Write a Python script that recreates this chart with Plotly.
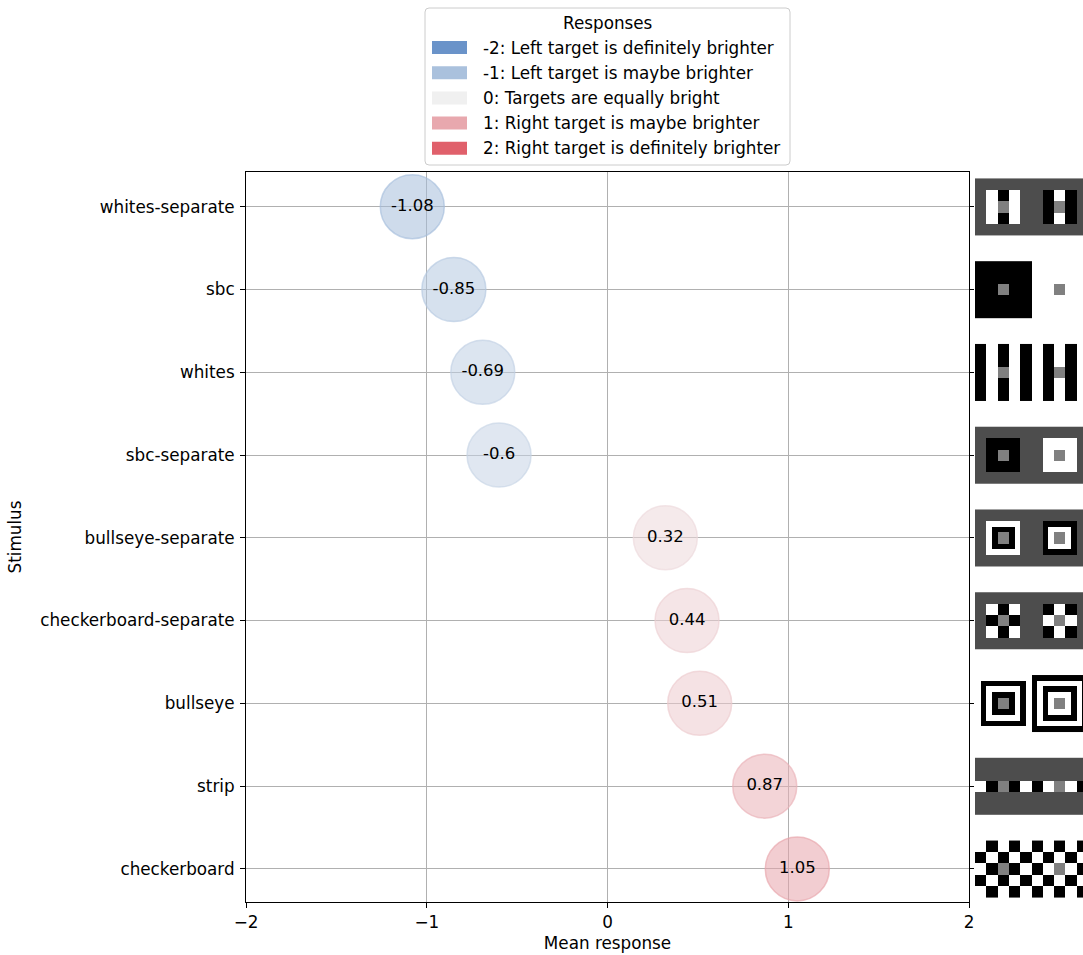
import plotly.graph_objects as go

# ---------------- data ----------------
stimuli = ["whites-separate", "sbc", "whites", "sbc-separate", "bullseye-separate",
           "checkerboard-separate", "bullseye", "strip", "checkerboard"]
mean_response = [-1.08, -0.85, -0.69, -0.6, 0.32, 0.44, 0.51, 0.87, 1.05]

x_ticks = [-2, -1, 0, 1, 2]
x_tick_labels = ["\u22122", "\u22121", "0", "1", "2"]

response_levels = [-2, -1, 0, 1, 2]
response_labels = ["-2: Left target is definitely brighter",
                   "-1: Left target is maybe brighter",
                   "0: Targets are equally bright",
                   "1: Right target is maybe brighter",
                   "2: Right target is definitely brighter"]
response_colors = ["#6a93c9", "#aac1dd", "#f0f0f0", "#e8a8ae", "#e0606b"]

# stimulus thumbnails: k=black, w=white, g=background grey, t=target grey
img_whites_separate = ["gggggggggg", "gwkwggkwkg", "gwtwggktkg", "gwkwggkwkg", "gggggggggg"]
img_sbc = ["kkkkkwwwww", "kkkkkwwwww", "kktkkwwtww", "kkkkkwwwww", "kkkkkwwwww"]
img_whites = ["kwkwkwkwkw", "kwkwkwkwkw", "kwtwkwktkw", "kwkwkwkwkw", "kwkwkwkwkw"]
img_sbc_separate = ["gggggggggg", "gkkkggwwwg", "gktkggwtwg", "gkkkggwwwg", "gggggggggg"]
img_bullseye_separate = ["gggggggggggggggggggg", "gggggggggggggggggggg",
                         "ggwwwwwwggggkkkkkkgg", "ggwkkkkwggggkwwwwkgg",
                         "ggwkttkwggggkwttwkgg", "ggwkttkwggggkwttwkgg",
                         "ggwkkkkwggggkwwwwkgg", "ggwwwwwwggggkkkkkkgg",
                         "gggggggggggggggggggg", "gggggggggggggggggggg"]
img_checkerboard_separate = ["gggggggggg", "gwkwggkwkg", "gktkggwtwg", "gwkwggkwkg", "gggggggggg"]
img_bullseye = ["wwwwwwwwwwkkkkkkkkkk", "wkkkkkkkkwkwwwwwwwwk",
                "wkwwwwwwkwkwkkkkkkwk", "wkwkkkkwkwkwkwwwwkwk",
                "wkwkttkwkwkwkwttwkwk", "wkwkttkwkwkwkwttwkwk",
                "wkwkkkkwkwkwkwwwwkwk", "wkwwwwwwkwkwkkkkkkwk",
                "wkkkkkkkkwkwwwwwwwwk", "wwwwwwwwwwkkkkkkkkkk"]
img_strip = ["gggggggggg", "gggggggggg", "wktkwkwtwk", "gggggggggg", "gggggggggg"]
img_checkerboard = ["wkwkwkwkwk", "kwkwkwkwkw", "wktkwkwtwk", "kwkwkwkwkw", "wkwkwkwkwk"]

images = [img_whites_separate, img_sbc, img_whites, img_sbc_separate, img_bullseye_separate,
          img_checkerboard_separate, img_bullseye, img_strip, img_checkerboard]
pixel_values = {"k": 0.0, "w": 1.0, "g": 0.3, "t": 0.5}

# ---------------- layout geometry ----------------
W, H = 1083, 955
ML, MR, MT, MB = 246, 0, 172, 53
PW, PH = W - ML - MR, H - MT - MB
Y_RANGE = [8.4, -0.42]
PX_PER_Y = PH / abs(Y_RANGE[0] - Y_RANGE[1])
IMG_H_PX = 56.67
MAIN_RIGHT_PX = 969
IMG_LEFT_PX = 975
FS = 16.8


def px2x(px):
    return (px - ML) / PW


def py2y(py):
    return (MT + PH - py) / PH


def hex2rgb(h):
    h = h.lstrip("#")
    return tuple(int(h[i:i + 2], 16) for i in (0, 2, 4))


def color_at(v):
    for i in range(len(response_levels) - 1):
        a, b = response_levels[i], response_levels[i + 1]
        if a <= v <= b:
            t = (v - a) / (b - a)
            c0, c1 = hex2rgb(response_colors[i]), hex2rgb(response_colors[i + 1])
            return tuple(c0[j] + (c1[j] - c0[j]) * t for j in range(3))
    return hex2rgb(response_colors[-1] if v > 0 else response_colors[0])


fill_colors, line_colors = [], []
for v in mean_response:
    r, g, b = color_at(v)
    fill_colors.append(f"rgba({r:.0f},{g:.0f},{b:.0f},0.55)")
    line_colors.append(f"rgba({r:.0f},{g:.0f},{b:.0f},0.65)")

FONT = "DejaVu Sans"

fig = go.Figure()

# bubbles
fig.add_trace(go.Scatter(
    x=mean_response, y=list(range(len(stimuli))),
    mode="markers+text",
    text=[str(v) for v in mean_response],
    textposition="middle center",
    textfont=dict(family=FONT, size=16.5, color="black"),
    marker=dict(size=64, color=fill_colors, line=dict(color=line_colors, width=1.5)),
    hoverinfo="skip", showlegend=False, xaxis="x", yaxis="y",
))

# thumbnails
for idx, img in enumerate(images):
    rows = len(img)
    cell_px = IMG_H_PX / rows
    cell_y = cell_px / PX_PER_Y
    z = [[pixel_values[c] for c in row] for row in img]
    fig.add_trace(go.Heatmap(
        z=z,
        x0=cell_px / 2, dx=cell_px,
        y0=idx - rows * cell_y / 2 + cell_y / 2, dy=cell_y,
        colorscale=[[0, "rgb(0,0,0)"], [1, "rgb(255,255,255)"]],
        zmin=0, zmax=1, showscale=False, hoverinfo="skip",
        xaxis="x2", yaxis="y2",
    ))

shapes = []
annotations = []

# legend box
lx0, lx1, ly0, ly1, rad = 425, 790, 8, 165, 4
rx, ry = rad / PW, rad / PH
X0, X1, Y0, Y1 = px2x(lx0), px2x(lx1), py2y(ly0), py2y(ly1)
path = (f"M {X0 + rx},{Y0} L {X1 - rx},{Y0} Q {X1},{Y0} {X1},{Y0 - ry} "
        f"L {X1},{Y1 + ry} Q {X1},{Y1} {X1 - rx},{Y1} L {X0 + rx},{Y1} "
        f"Q {X0},{Y1} {X0},{Y1 + ry} L {X0},{Y0 - ry} Q {X0},{Y0} {X0 + rx},{Y0} Z")
shapes.append(dict(type="path", xref="paper", yref="paper", path=path,
                   fillcolor="rgba(255,255,255,0.8)", line=dict(color="#cccccc", width=1)))
annotations.append(dict(text="Responses", xref="paper", yref="paper",
                        x=px2x(607.5), y=py2y(22.5), xanchor="center", yanchor="middle",
                        showarrow=False, font=dict(family=FONT, size=FS, color="black")))
for i, (lab, col) in enumerate(zip(response_labels, response_colors)):
    cy = 47.5 + 25.2 * i
    shapes.append(dict(type="rect", xref="paper", yref="paper",
                       x0=px2x(432), x1=px2x(467), y0=py2y(cy - 6.5), y1=py2y(cy + 6.5),
                       fillcolor=col, line=dict(width=0)))
    annotations.append(dict(text=lab, xref="paper", yref="paper",
                            x=px2x(481), y=py2y(cy), xanchor="left", yanchor="middle",
                            showarrow=False, font=dict(family=FONT, size=FS, color="black")))

fig.update_layout(
    width=W, height=H, autosize=False,
    margin=dict(l=ML, r=MR, t=MT, b=MB, pad=0, autoexpand=False),
    plot_bgcolor="white", paper_bgcolor="white",
    font=dict(family=FONT, size=FS, color="black"),
    showlegend=False,
    shapes=shapes, annotations=annotations,
    xaxis=dict(
        domain=[0, px2x(MAIN_RIGHT_PX)], range=[-2, 2], automargin=False,
        tickvals=x_ticks, ticktext=x_tick_labels,
        showgrid=True, gridcolor="#b0b0b0", gridwidth=1, zeroline=False,
        showline=True, linecolor="black", linewidth=1, mirror=True,
        ticks="outside", ticklen=5, tickcolor="black", tickwidth=1,
        title=dict(text="Mean response", standoff=6, font=dict(size=FS)),
        anchor="y",
    ),
    yaxis=dict(
        domain=[0, 1], range=Y_RANGE, automargin=False,
        tickvals=list(range(len(stimuli))), ticktext=stimuli,
        showgrid=True, gridcolor="#b0b0b0", gridwidth=1, zeroline=False,
        showline=True, linecolor="black", linewidth=1, mirror=True,
        ticks="outside", ticklen=5, tickcolor="black", tickwidth=1,
        ticklabelstandoff=2,
        title=dict(text="Stimulus", standoff=14, font=dict(size=FS)),
        anchor="x",
    ),
    xaxis2=dict(
        domain=[px2x(IMG_LEFT_PX), 1], range=[0, W - IMG_LEFT_PX],
        visible=False, anchor="y2", automargin=False,
    ),
    yaxis2=dict(
        domain=[0, 1], range=Y_RANGE, automargin=False,
        tickvals=list(range(len(stimuli))), showticklabels=False,
        ticks="outside", ticklen=4, tickcolor="black", tickwidth=1,
        showgrid=False, zeroline=False, showline=False,
        anchor="x2",
    ),
)

fig.write_html("out.html", config={"displayModeBar": False},
               post_script="document.body.style.margin='0';document.body.style.overflow='hidden';")
